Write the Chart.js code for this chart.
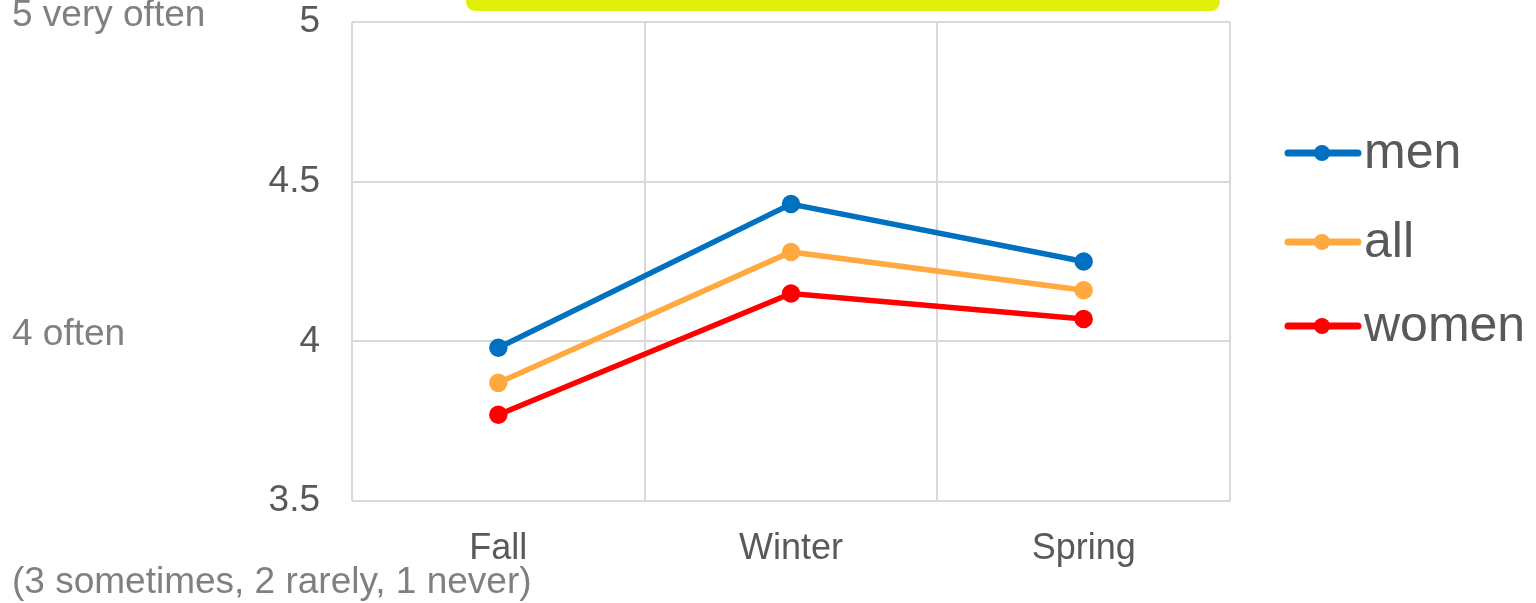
<!DOCTYPE html>
<html>
<head>
<meta charset="utf-8">
<script src="https://cdn.jsdelivr.net/npm/chart.js@4/dist/chart.umd.min.js"></script>
<style>
  html, body { margin: 0; padding: 0; background: #fff; }
  #wrap { width: 1536px; height: 603px; position: relative; }
</style>
</head>
<body>
<div id="wrap"><canvas id="lineChart"></canvas></div>
<script>
// データ
const seasons = ['Fall', 'Winter', 'Spring'];
const menVals = [3.98, 4.43, 4.25];
const allVals = [3.87, 4.28, 4.16];
const womenVals = [3.77, 4.15, 4.07];
const yTicks = [3.5, 4, 4.5, 5];
const sideNotes = ['5 very often', '4 often', '(3 sometimes, 2 rarely, 1 never)'];

const FONT = '"Liberation Sans", Arial, sans-serif';

// 左側のメモ、上の黄色いバー、凡例
const extras = {
    id: 'extras',
    beforeDraw(chart) {
        const c = chart.ctx;
        c.save();
        c.fillStyle = '#dff00a';
        c.beginPath();
        c.roundRect(466, -20, 754, 31, 9);
        c.fill();
        c.restore();
    },
    afterDraw(chart) {
        const c = chart.ctx;
        c.save();
        c.font = '37px ' + FONT;
        c.fillStyle = '#808080';
        c.textBaseline = 'alphabetic';
        c.textAlign = 'left';
        c.fillText(sideNotes[0], 12, 26);
        c.fillText(sideNotes[1], 12, 345);
        c.fillText(sideNotes[2], 12, 593);

        // 凡例
        const rows = [153, 242, 326];
        c.textBaseline = 'middle';
        chart.data.datasets.forEach((ds, i) => {
            const ly = rows[i];
            c.strokeStyle = ds.borderColor;
            c.lineWidth = 7;
            c.lineCap = 'round';
            c.beginPath();
            c.moveTo(1288, ly);
            c.lineTo(1358, ly);
            c.stroke();
            c.fillStyle = ds.borderColor;
            c.beginPath();
            c.arc(1322, ly, 8, 0, Math.PI * 2);
            c.fill();
            c.fillStyle = '#595959';
            c.font = '50px ' + FONT;
            c.fillText(ds.label, 1364, ly + 1);
        });
        c.restore();
    }
};

window.addEventListener('DOMContentLoaded', () => {
    const ctx = document.getElementById('lineChart').getContext('2d');
    const mk = (label, data, color) => ({
        label: label,
        data: data,
        borderColor: color,
        backgroundColor: color,
        borderWidth: 5.5,
        pointRadius: 6.5,
        pointHoverRadius: 6.5,
        tension: 0
    });
    new Chart(ctx, {
        type: 'line',
        data: {
            labels: seasons,
            datasets: [
                mk('men', menVals, '#0070c0'),
                mk('all', allVals, '#ffa940'),
                mk('women', womenVals, '#ff0000')
            ]
        },
        options: {
            responsive: true,
            maintainAspectRatio: false,
            animation: false,
            layout: { padding: { top: 22, right: 306, left: 0, bottom: 0 } },
            plugins: { legend: { display: false }, tooltip: { enabled: false } },
            scales: {
                x: {
                    offset: true,
                    grid: { offset: true, color: '#d9d9d9', lineWidth: 2, drawTicks: false },
                    border: { display: false },
                    ticks: { color: '#595959', font: { family: FONT, size: 36 }, padding: 26 },
                    afterFit(s) { s.height = 102; }
                },
                y: {
                    min: 3.5,
                    max: 5,
                    afterBuildTicks(s) { s.ticks = yTicks.map(v => ({ value: v })); },
                    grid: { color: '#d9d9d9', lineWidth: 2, drawTicks: false },
                    border: { display: false },
                    ticks: {
                        color: '#595959',
                        font: { family: FONT, size: 37 },
                        padding: 32,
                        callback: v => String(v)
                    },
                    afterFit(s) { s.width = 352; s.paddingTop = 0; s.paddingBottom = 0; }
                }
            }
        },
        plugins: [extras]
    });
});
</script>
</body>
</html>
